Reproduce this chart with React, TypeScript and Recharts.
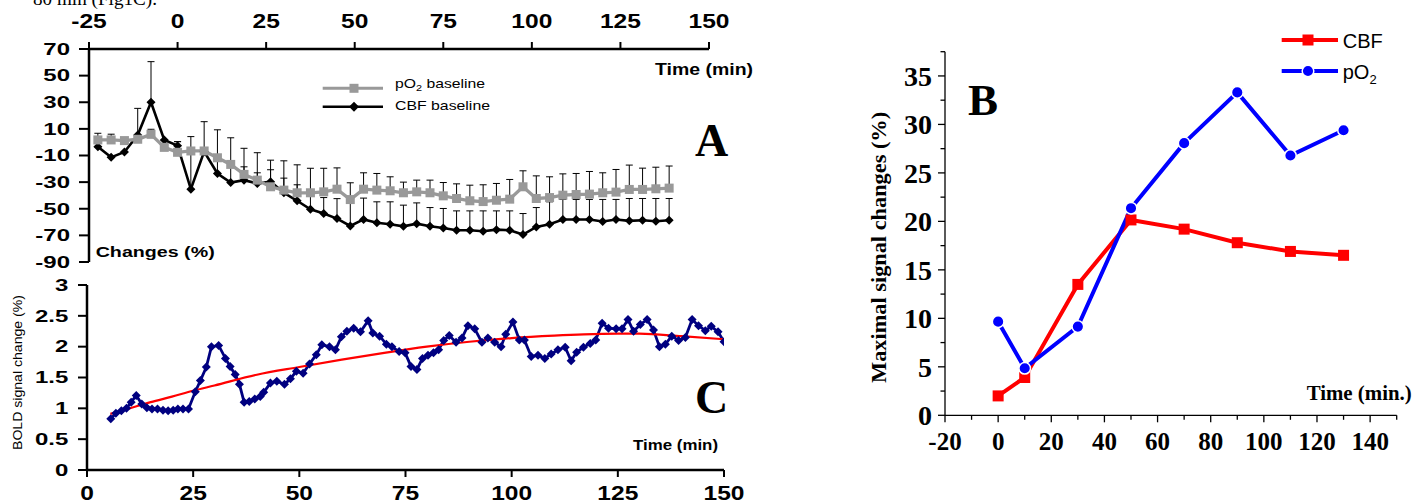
import React from 'react';
import { LineChart, Line, XAxis, YAxis, ErrorBar } from 'recharts';

// ---------- Panel A data ----------
const aTimes = [-22.5, -18.75, -15, -11.25, -7.5, -3.75, 0, 3.75, 7.5, 11.25, 15, 18.75, 22.5, 26.25, 30, 33.75, 37.5, 41.25, 45, 48.75, 52.5, 56.25, 60, 63.75, 67.5, 71.25, 75, 78.75, 82.5, 86.25, 90, 93.75, 97.5, 101.25, 105, 108.75, 112.5, 116.25, 120, 123.75, 127.5, 131.25, 135, 138.75];
const aCbf = [-3.4, -11.4, -7.4, 5.4, 30, 1.7, -2.6, -35.3, -7.1, -23.5, -30.3, -28.5, -31, -29.7, -38, -44, -50.4, -53.6, -57.4, -62.9, -58, -60.5, -61.7, -63.2, -61.2, -63.2, -64.4, -66.2, -66.2, -66.9, -65.7, -66.2, -69.4, -63.7, -61.7, -58.1, -58.1, -58.1, -59.6, -58.1, -59.1, -58.6, -59.4, -58.6];
const aPo2 = [1.7, 1.7, 1.2, 2.2, 5.9, -3.9, -7.6, -6.6, -6.6, -11.7, -16.7, -24.2, -28.5, -33.5, -36, -38, -38, -37.3, -35.3, -43.1, -35.3, -36, -36.5, -38, -37.3, -38, -40.3, -42.3, -44, -44.6, -43.6, -42.8, -33.5, -42.3, -41.6, -39.8, -39.3, -39, -38, -37.5, -35.5, -35.5, -35, -34.5];
const aCbfErr = [0, 0, 0, 20, 30.5, 0, 3, 39.5, 0, 10, 12, 10, 8, 9, 11, 12, 11, 12, 15, 18, 16, 15.7, 16.9, 15.9, 15.6, 14.1, 14.6, 14.6, 14.6, 15.3, 14.1, 14.6, 15.8, 14.6, 16.9, 15.1, 15.1, 15.1, 16.6, 15.1, 16.8, 16.3, 17.1, 16.3];
const aPo2Err = [5, 4.3, 2, 2, 3.8, 2, 8, 0, 22, 21, 20, 19.6, 20.6, 20, 22, 21, 18.4, 17.7, 16, 12.6, 12.3, 12.5, 10.5, 8, 8.8, 9.5, 10, 11, 11.7, 12.6, 12.6, 14.8, 12, 17, 15.6, 16, 15.8, 17, 15, 17, 18.3, 16, 16.2, 16.6];
const aXTicks = [-25, 0, 25, 50, 75, 100, 125, 150];
const aYTicks = [-90, -70, -50, -30, -10, 10, 30, 50, 70];

// ---------- Panel C data ----------
const cBoldTimes = [5.6, 6.8, 8.1, 9.3, 10.4, 11.6, 12.9, 14.1, 15.3, 16.6, 17.9, 19.1, 20.3, 21.4, 22.6, 23.9, 25.5, 26.7, 28.1, 29.3, 31.0, 32.6, 33.7, 34.9, 35.9, 37.0, 38.2, 39.5, 40.8, 41.6, 43.2, 44.7, 46.5, 47.9, 49.3, 50.9, 52.4, 54.0, 55.3, 57.1, 58.5, 59.9, 61.2, 62.8, 64.4, 66.2, 67.3, 68.9, 70.5, 71.8, 73.5, 74.9, 76.3, 77.7, 79.0, 80.3, 81.6, 82.8, 84.0, 85.3, 86.9, 88.3, 89.7, 91.3, 93.0, 94.4, 96.0, 97.5, 98.6, 100.3, 101.8, 103.0, 104.6, 106.2, 107.8, 109.3, 110.9, 112.6, 114.0, 115.3, 116.9, 118.5, 119.8, 121.3, 122.8, 124.6, 126.0, 127.4, 128.7, 130.3, 131.9, 133.4, 134.8, 136.2, 137.7, 139.3, 140.9, 142.5, 144.0, 145.6, 147.0, 148.6, 150.0];
const cBoldValues = [0.83, 0.92, 0.96, 1.0, 1.10, 1.21, 1.07, 1.01, 0.99, 0.99, 0.97, 0.96, 0.97, 0.99, 0.99, 0.99, 1.27, 1.45, 1.67, 2.0, 2.02, 1.81, 1.68, 1.55, 1.39, 1.10, 1.11, 1.15, 1.19, 1.26, 1.41, 1.44, 1.39, 1.48, 1.60, 1.57, 1.72, 1.87, 2.03, 2.0, 1.95, 2.16, 2.25, 2.30, 2.24, 2.42, 2.22, 2.17, 2.04, 2.0, 1.92, 1.90, 1.68, 1.63, 1.81, 1.86, 1.90, 1.95, 2.10, 2.18, 2.07, 2.14, 2.34, 2.29, 2.07, 2.14, 2.07, 2.0, 2.20, 2.40, 2.11, 2.11, 1.84, 1.86, 1.81, 1.88, 1.95, 1.99, 1.77, 1.91, 1.99, 2.05, 2.11, 2.38, 2.30, 2.29, 2.29, 2.44, 2.25, 2.36, 2.44, 2.27, 2.0, 2.04, 2.17, 2.10, 2.15, 2.44, 2.34, 2.26, 2.33, 2.24, 2.08];
const cFitTimes = [5.5, 10, 15, 20, 25, 30, 40, 50, 60, 70, 80, 90, 100, 110, 117, 125, 130, 140, 150];
const cFitValues = [0.91, 1.0, 1.10, 1.19, 1.285, 1.37, 1.545, 1.67, 1.79, 1.90, 2.0, 2.08, 2.14, 2.18, 2.20, 2.21, 2.21, 2.17, 2.12];
const cXTicks = [0, 25, 50, 75, 100, 125, 150];
const cYTicks = [0, 0.5, 1, 1.5, 2, 2.5, 3];

// ---------- Panel B data ----------
const bTimes = [0, 10, 30, 50, 70, 90, 110, 130];
const bCbf = [2.0, 3.9, 13.5, 20.15, 19.2, 17.8, 16.9, 16.5];
const bPo2 = [9.66, 4.85, 9.15, 21.36, 28.07, 33.3, 26.8, 29.4];
const bXTicks = [-20, -10, 0, 10, 20, 30, 40, 50, 60, 70, 80, 90, 100, 110, 120, 130, 140, 150];
const bYTicks = [0, 2.5, 5, 7.5, 10, 12.5, 15, 17.5, 20, 22.5, 25, 27.5, 30, 32.5, 35, 37.5];

const SANS = "'Liberation Sans', Arial, sans-serif";
const SERIF = "'Liberation Serif', 'Times New Roman', serif";

const aData = aTimes.map((t, i) => ({
  t,
  cbf: aCbf[i],
  po2: aPo2[i],
  cbfErr: [0, aCbfErr[i]],
  po2Err: [0, aPo2Err[i]],
}));
const cBoldData = cBoldTimes.map((t, i) => ({ t, v: cBoldValues[i] }));
const cFitData = cFitTimes.map((t, i) => ({ t, v: cFitValues[i] }));
const bData = bTimes.map((t, i) => ({ t, cbf: bCbf[i], po2: bPo2[i] }));

// ---------- markers ----------
const squareDot = (fill: string, size: number) => (p: any) =>
  p.cx == null || p.cy == null ? <g key={`s${p.index}`} /> :
  <rect key={`s${p.index}`} x={p.cx - size / 2} y={p.cy - size / 2} width={size} height={size} fill={fill} />;
const diamondDot = (fill: string, r: number) => (p: any) =>
  p.cx == null || p.cy == null ? <g key={`d${p.index}`} /> :
  <polygon key={`d${p.index}`} points={`${p.cx},${p.cy - r} ${p.cx + r},${p.cy} ${p.cx},${p.cy + r} ${p.cx - r},${p.cy}`} fill={fill} />;
const circleDot = (fill: string, r: number) => (p: any) =>
  p.cx == null || p.cy == null ? <g key={`c${p.index}`} /> :
  <circle key={`c${p.index}`} cx={p.cx} cy={p.cy} r={r} fill={fill} stroke="#fff" strokeWidth={1.5} />;

// ---------- ticks ----------
const StretchYTick = (p: any) => (
  <g transform={`translate(${p.x},${p.y})`}>
    <text transform="scale(1.5,1)" textAnchor="end" dy="0.36em" fontFamily={SANS} fontWeight="bold" fontSize={16} fill="#000">
      {p.payload.value}
    </text>
  </g>
);
const StretchXTick = (p: any) => (
  <g transform={`translate(${p.x},${p.y})`}>
    <text transform="scale(1.17,1)" textAnchor="middle" fontFamily={SANS} fontWeight="bold" fontSize={21} fill="#000">
      {p.payload.value}
    </text>
  </g>
);
const BYTick = (p: any) => {
  const v = p.payload.value;
  const major = v % 5 === 0;
  return (
    <g>
      <line x1={p.x - (major ? 7 : 4.5)} x2={p.x} y1={p.y} y2={p.y} stroke="#000" strokeWidth={1.3} />
      {major && v <= 35 ? (
        <text x={p.x - 13} y={p.y} dy={10} textAnchor="end" fontFamily={SERIF} fontWeight="bold" fontSize={28} fill="#000">{v}</text>
      ) : null}
    </g>
  );
};
const BXTick = (p: any) => {
  const v = p.payload.value;
  const major = v % 20 === 0;
  return (
    <g>
      <line x1={p.x} x2={p.x} y1={p.y} y2={p.y + (major ? 7 : 4.5)} stroke="#000" strokeWidth={1.3} />
      {major && v <= 140 ? (
        <text x={p.x} y={p.y + 34.5} textAnchor="middle" fontFamily={SERIF} fontWeight="bold" fontSize={25} fill="#000">{v}</text>
      ) : null}
    </g>
  );
};

const axisStrong = { stroke: '#000', strokeWidth: 2.5 };
const tickStrong = { stroke: '#000', strokeWidth: 2 };

export default function App() {
  return (
    <div style={{ position: 'fixed', left: 0, top: 0, width: 1423, height: 504, background: '#fff', overflow: 'hidden' }}>
      {/* Panel A */}
      <div style={{ position: 'absolute', left: 0, top: 0 }}>
        <LineChart width={760} height={280} data={aData} margin={{ top: 19, left: 29, right: 51, bottom: 18 }}>
          <XAxis dataKey="t" type="number" orientation="top" domain={[-25, 150]} ticks={aXTicks} interval={0}
            height={30} axisLine={axisStrong} tickLine={tickStrong} tickSize={7} tickMargin={13.7} tick={StretchXTick} allowDataOverflow />
          <YAxis type="number" domain={[-90, 70]} ticks={aYTicks} interval={0} width={60}
            axisLine={axisStrong} tickLine={tickStrong} tickSize={10} tickMargin={9} tick={StretchYTick} allowDataOverflow />
          <Line dataKey="cbf" stroke="#000" strokeWidth={2.6} dot={diamondDot('#000', 4.5)} isAnimationActive={false} activeDot={false}>
            <ErrorBar dataKey="cbfErr" direction="y" width={3.5} stroke="#000" strokeWidth={1} isAnimationActive={false} />
          </Line>
          <Line dataKey="po2" stroke="#999999" strokeWidth={3.3} dot={squareDot('#999999', 9)} isAnimationActive={false} activeDot={false}>
            <ErrorBar dataKey="po2Err" direction="y" width={3.5} stroke="#000" strokeWidth={1} isAnimationActive={false} />
          </Line>
        </LineChart>
      </div>

      {/* Panel C */}
      <div style={{ position: 'absolute', left: 0, top: 270 }}>
        <LineChart width={760} height={234} margin={{ top: 15, left: 27, right: 36, bottom: 4 }}>
          <XAxis dataKey="t" type="number" domain={[0, 150]} ticks={cXTicks} interval={0} height={30}
            axisLine={axisStrong} tickLine={tickStrong} tickSize={7} tickMargin={22.5} tick={StretchXTick} allowDataOverflow />
          <YAxis type="number" domain={[0, 3]} ticks={cYTicks} interval={0} width={60}
            axisLine={axisStrong} tickLine={tickStrong} tickSize={9} tickMargin={9.7} tick={StretchYTick} allowDataOverflow />
          <Line data={cBoldData} dataKey="v" stroke="#000080" strokeWidth={2.8} dot={diamondDot('#000080', 4.5)} isAnimationActive={false} activeDot={false} />
          <Line data={cFitData} dataKey="v" type="monotone" stroke="#FF0000" strokeWidth={2.2} dot={false} isAnimationActive={false} activeDot={false} />
        </LineChart>
      </div>

      {/* Panel B */}
      <div style={{ position: 'absolute', left: 840, top: 0 }}>
        <LineChart width={583} height={504} data={bData} margin={{ top: 51.7, left: 35, right: 26.3, bottom: 38.7 }}>
          <XAxis dataKey="t" type="number" domain={[-20, 150]} ticks={bXTicks} interval={0} height={50}
            axisLine={{ stroke: '#000', strokeWidth: 1.3 }} tickLine={false} tickSize={0} tickMargin={0} tick={BXTick} allowDataOverflow />
          <YAxis type="number" domain={[0, 37.5]} ticks={bYTicks} interval={0} width={70}
            axisLine={{ stroke: '#000', strokeWidth: 1.3 }} tickLine={false} tickSize={0} tickMargin={0} tick={BYTick} allowDataOverflow />
          <Line dataKey="cbf" stroke="#FF0000" strokeWidth={4} dot={squareDot('#FF0000', 11)} isAnimationActive={false} activeDot={false} />
          <Line dataKey="po2" stroke="#0000FF" strokeWidth={4} dot={circleDot('#0000FF', 5.8)} isAnimationActive={false} activeDot={false} />
        </LineChart>
      </div>

      {/* Annotations and legends */}
      <svg width={1423} height={504} style={{ position: 'absolute', left: 0, top: 0, pointerEvents: 'none' }}>
        <text x={33} y={4.5} fontFamily={SERIF} fontSize={19} textLength={124} lengthAdjust="spacingAndGlyphs">80 min (Fig1C).</text>

        {/* Panel A legend */}
        <line x1={322.7} x2={383} y1={88.3} y2={88.3} stroke="#999999" strokeWidth={3} />
        <rect x={354 - 4.5} y={88.3 - 4.5} width={9} height={9} fill="#999999" />
        <line x1={322.7} x2={383} y1={106.7} y2={106.7} stroke="#000" strokeWidth={2.5} />
        <polygon points="354,101.7 359,106.7 354,111.7 349,106.7" fill="#000" />
        <text x={395} y={87.5} fontFamily={SANS} fontSize={13} textLength={90} lengthAdjust="spacingAndGlyphs">
          pO<tspan dy={3} fontSize={9}>2</tspan><tspan dy={-3}> baseline</tspan>
        </text>
        <text x={395} y={110} fontFamily={SANS} fontSize={13} textLength={95} lengthAdjust="spacingAndGlyphs">CBF baseline</text>

        <text x={655} y={75} fontFamily={SANS} fontWeight="bold" fontSize={16} textLength={98} lengthAdjust="spacingAndGlyphs">Time (min)</text>
        <text x={95.7} y={257} fontFamily={SANS} fontWeight="bold" fontSize={15} textLength={119} lengthAdjust="spacingAndGlyphs">Changes (%)</text>
        <text x={695} y={156} fontFamily={SERIF} fontWeight="bold" fontSize={46}>A</text>

        {/* Panel C */}
        <text x={695} y={413} fontFamily={SERIF} fontWeight="bold" fontSize={46}>C</text>
        <text x={633} y={450} fontFamily={SANS} fontWeight="bold" fontSize={14} textLength={85} lengthAdjust="spacingAndGlyphs">Time (min)</text>
        <text transform="translate(22,372.5) rotate(-90)" textAnchor="middle" fontFamily={SANS} fontSize={12} textLength={155} lengthAdjust="spacingAndGlyphs">BOLD signal change (%)</text>

        {/* Panel B */}
        <text x={968} y={115} fontFamily={SERIF} fontWeight="bold" fontSize={45}>B</text>
        <text transform="translate(886,247.4) rotate(-90)" textAnchor="middle" fontFamily={SERIF} fontWeight="bold" fontSize={21} textLength={271} lengthAdjust="spacingAndGlyphs">Maximal signal changes (%)</text>
        <text x={1306.7} y={400} fontFamily={SERIF} fontWeight="bold" fontSize={21} textLength={105} lengthAdjust="spacingAndGlyphs">Time (min.)</text>

        <line x1={1281.7} x2={1338} y1={40} y2={40} stroke="#FF0000" strokeWidth={4} />
        <rect x={1308 - 5.5} y={40 - 5.5} width={11} height={11} fill="#FF0000" />
        <line x1={1281.7} x2={1338} y1={71} y2={71} stroke="#0000FF" strokeWidth={4} />
        <circle cx={1308} cy={71} r={5.8} fill="#0000FF" stroke="#fff" strokeWidth={1.5} />
        <text x={1342.7} y={48} fontFamily={SANS} fontSize={20}>CBF</text>
        <text x={1342.7} y={79} fontFamily={SANS} fontSize={20}>
          pO<tspan dy={5} fontSize={13}>2</tspan>
        </text>
      </svg>
    </div>
  );
}
